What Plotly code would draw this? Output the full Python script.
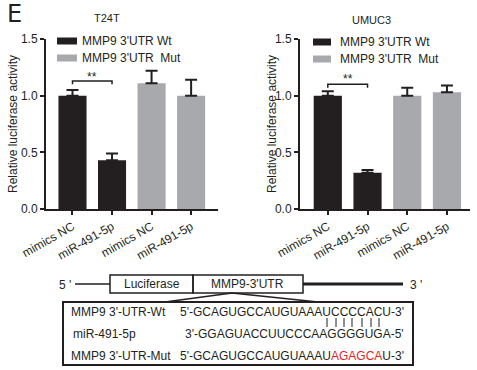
import plotly.graph_objects as go

W, H = 477, 370

categories = ["mimics NC", "miR-491-5p", "mimics NC", "miR-491-5p"]
groups = ["Wt", "Wt", "Mut", "Mut"]

t24t_values = [1.00, 0.43, 1.11, 1.00]
t24t_errors = [0.05, 0.06, 0.11, 0.14]
umuc3_values = [1.00, 0.32, 1.00, 1.03]
umuc3_errors = [0.04, 0.025, 0.07, 0.06]

panel_titles = ["T24T", "UMUC3"]
legend_labels = ["MMP9 3'UTR Wt", "MMP9 3'UTR  Mut"]
y_ticks = [0.0, 0.5, 1.0, 1.5]
y_tick_labels = ["0.0", "0.5", "1.0", "1.5"]
sig_label = "**"
sig_bracket_y = [1.13, 1.10]
sig_label_y = [1.165, 1.145]

BLACK = "#231f20"
GRAY = "#a7a9ac"
FONT = "Liberation Sans, Arial, sans-serif"
TXT = "#231f20"


def px(x):
    return x / W


def py(y):
    return 1 - y / H


fig = go.Figure()

panels = [
    dict(vals=t24t_values, errs=t24t_errors, xa="x", ya="y",
         xdom=[px(46), px(218)], xr=[-0.67, 3.68]),
    dict(vals=umuc3_values, errs=umuc3_errors, xa="x2", ya="y2",
         xdom=[px(300), px(470)], xr=[-0.70, 3.58]),
]
ydom = [py(209), py(39)]

for i, p in enumerate(panels):
    colors = [BLACK if g == "Wt" else GRAY for g in groups]
    fig.add_trace(go.Bar(
        x=list(range(len(categories))), y=p["vals"],
        marker=dict(color=colors, line=dict(width=0)),
        width=0.71,
        error_y=dict(type="data", array=p["errs"], arrayminus=[0] * 4,
                     color=BLACK, thickness=2, width=6),
        xaxis=p["xa"], yaxis=p["ya"], showlegend=False,
    ))

for i, p in enumerate(panels):
    sfx = "" if i == 0 else "2"
    fig.layout["xaxis" + sfx] = dict(
        domain=p["xdom"], range=p["xr"], anchor="y" + sfx,
        showline=True, linewidth=2, linecolor=BLACK,
        ticks="outside", ticklen=4, tickwidth=2, tickcolor=BLACK,
        tickmode="array", tickvals=list(range(len(categories))), ticktext=categories,
        tickangle=-30, showgrid=False, zeroline=False, automargin=False,
        tickfont=dict(family=FONT, size=12, color=TXT))
    fig.layout["yaxis" + sfx] = dict(
        domain=ydom, range=[0, 1.5], anchor="x" + sfx,
        showline=True, linewidth=2, linecolor=BLACK,
        ticks="outside", ticklen=4, tickwidth=2, tickcolor=BLACK,
        tickmode="array", tickvals=y_ticks, ticktext=y_tick_labels,
        showgrid=False, zeroline=False, automargin=False,
        tickfont=dict(family=FONT, size=12, color=TXT))

shapes = []
ann = []

# significance brackets
for i, p in enumerate(panels):
    yb = sig_bracket_y[i]
    shapes.append(dict(type="path", xref=p["xa"], yref=p["ya"],
                       path=f"M 0,{yb-0.03} L 0,{yb} L 1,{yb} L 1,{yb-0.03}",
                       line=dict(color=BLACK, width=1.5)))
    ann.append(dict(xref=p["xa"], yref=p["ya"], x=0.5, y=sig_label_y[i], text=sig_label,
                    showarrow=False, xanchor="center", yanchor="middle",
                    font=dict(family=FONT, size=12, color=TXT)))

# panel titles
ann.append(dict(xref="paper", yref="paper", x=px(107), y=py(18), text=panel_titles[0],
                showarrow=False, xanchor="center", yanchor="middle",
                font=dict(family=FONT, size=11, color=TXT)))
ann.append(dict(xref="paper", yref="paper", x=px(371), y=py(20), text=panel_titles[1],
                showarrow=False, xanchor="center", yanchor="middle",
                font=dict(family=FONT, size=11, color=TXT)))

# y titles
for xpos in [13, 272]:
    ann.append(dict(xref="paper", yref="paper", x=px(xpos), y=py(124),
                    text="Relative luciferase activity", textangle=-90,
                    xanchor="center", yanchor="middle",
                    showarrow=False, font=dict(family=FONT, size=12, color=TXT)))

# panel letter
ann.append(dict(xref="paper", yref="paper", x=px(5), y=py(14), text="E", xanchor="left",
                yanchor="middle", showarrow=False,
                font=dict(family="DejaVu Sans, sans-serif", size=24, color=TXT)))

# legends
legend_specs = [
    dict(rx=(57, 77), ty=[41, 58], tx=80),
    dict(rx=(313, 331), ty=[42, 59], tx=338),
]
for spec in legend_specs:
    for j, (lab, col) in enumerate(zip(legend_labels, [BLACK, GRAY])):
        yc = spec["ty"][j]
        shapes.append(dict(type="rect", xref="paper", yref="paper",
                           x0=px(spec["rx"][0]), x1=px(spec["rx"][1]),
                           y0=py(yc + 3.5), y1=py(yc - 3.5),
                           fillcolor=col, line=dict(width=0)))
        ann.append(dict(xref="paper", yref="paper", x=px(spec["tx"]),
                        y=py(yc), text=lab, xanchor="left", yanchor="middle",
                        showarrow=False, font=dict(family=FONT, size=12, color=TXT)))

# construct diagram
LW = dict(color=BLACK, width=1.5)
shapes += [
    dict(type="line", xref="paper", yref="paper", x0=px(75), x1=px(110), y0=py(284), y1=py(284), line=LW),
    dict(type="rect", xref="paper", yref="paper", x0=px(110), x1=px(193), y0=py(293), y1=py(275), line=LW),
    dict(type="rect", xref="paper", yref="paper", x0=px(193), x1=px(303), y0=py(293), y1=py(275), line=LW),
    dict(type="line", xref="paper", yref="paper", x0=px(303), x1=px(403), y0=py(284), y1=py(284),
         line=dict(color=BLACK, width=3)),
    dict(type="line", xref="paper", yref="paper", x0=px(232), x1=px(165), y0=py(293), y1=py(302), line=LW),
    dict(type="line", xref="paper", yref="paper", x0=px(232), x1=px(318), y0=py(293), y1=py(302), line=LW),
    dict(type="rect", xref="paper", yref="paper", x0=px(63), x1=px(413), y0=py(365), y1=py(302),
         line=dict(color=BLACK, width=2)),
]
for xv in [327, 336, 344, 352, 362, 371, 379]:
    shapes.append(dict(type="line", xref="paper", yref="paper", x0=px(xv), x1=px(xv),
                       y0=py(318), y1=py(327), line=dict(color=BLACK, width=1)))

f12 = dict(family=FONT, size=12, color=TXT)
diagram_texts = [
    (57, 285, "5 '", "left"),
    (408, 285, "3 '", "left"),
    (152, 284, "Luciferase", "center"),
    (248, 284, "MMP9-3'UTR", "center"),
    (69, 312, "MMP9 3'-UTR-Wt", "left"),
    (71, 334, "miR-491-5p", "left"),
    (69, 356, "MMP9 3'-UTR-Mut", "left"),
    (406, 312, "5'-GCAGUGCCAUGUAAAUCCCCACU-3'", "right"),
    (406, 334, "3'-GGAGUACCUUCCCAAGGGGUGA-5'", "right"),
    (406, 356, "5'-GCAGUGCCAUGUAAAU<span style='color:#ed1c24'>AGAGCA</span>U-3'", "right"),
]
for x, y, t, anc in diagram_texts:
    ann.append(dict(xref="paper", yref="paper", x=px(x), y=py(y), text=t, xanchor=anc,
                    yanchor="middle", showarrow=False, font=f12))

fig.update_layout(
    width=W, height=H, autosize=False,
    margin=dict(l=0, r=0, t=0, b=0, pad=0),
    paper_bgcolor="white", plot_bgcolor="white",
    shapes=shapes, annotations=ann, showlegend=False,
)

fig.write_html("out.html", post_script="document.body.style.margin='0';",
               config={"displayModeBar": False})
